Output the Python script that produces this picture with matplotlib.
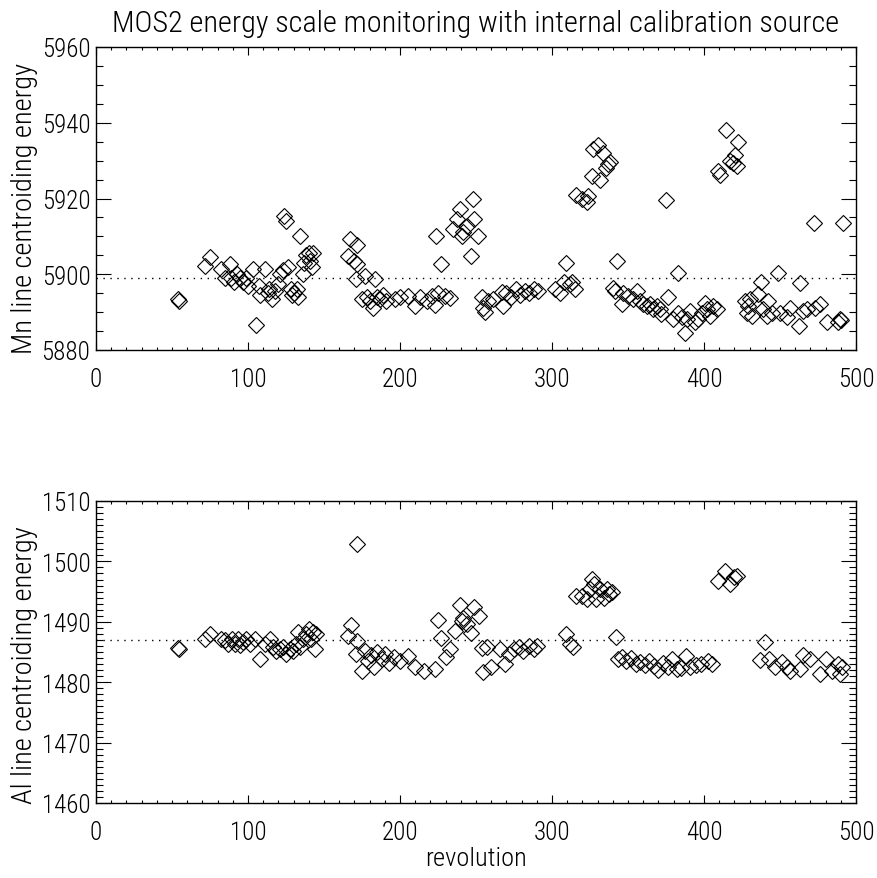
import matplotlib
matplotlib.use("Agg")
import matplotlib.pyplot as plt
from matplotlib.ticker import MultipleLocator

# Mn K-alpha line centroid (top panel): (revolution, energy)
mn_points = [
    (54, 5893.5), (54.5, 5893), (72, 5902.3), (75, 5904.6), (82, 5901.4),
    (85, 5899), (88, 5902.7), (89, 5899), (91, 5898), (93, 5900), (95, 5899),
    (97, 5898), (99, 5899), (100, 5897), (103, 5901.5), (105, 5886.5),
    (107, 5897), (108, 5894.5), (111, 5901.5), (113, 5895), (114, 5896),
    (116, 5893.5), (118, 5895.5), (120, 5897.5), (121, 5900), (123, 5901),
    (124, 5915.5), (125, 5914), (126, 5902), (128, 5896), (129, 5894.5),
    (130, 5895), (132, 5896), (133, 5894), (134, 5910), (136, 5900),
    (137, 5903), (138, 5905), (140, 5905.5), (141, 5903.5), (142, 5902),
    (143, 5905.5),
    (166, 5904.8), (167, 5909.3), (170, 5903.5), (171.5, 5907.7),
    (172, 5902.7), (171, 5898.7), (175, 5893.5), (177, 5899.5), (178, 5894),
    (180, 5893), (182, 5891), (183.5, 5898.7), (185, 5894), (187, 5893.5),
    (189, 5894.5), (191, 5893), (197, 5893.5), (200, 5894), (205, 5894.3),
    (210, 5891.6), (213, 5894), (218, 5893), (221, 5894.3), (223, 5892),
    (224, 5910), (225, 5895), (227, 5902.7), (229.6, 5894.3), (233, 5893.7),
    (235, 5912), (237.5, 5914.6), (239.5, 5917.2), (241, 5910.1),
    (241.5, 5911.2), (244, 5912.8), (246.7, 5904.8), (248, 5920),
    (249, 5914.6), (251, 5910), (254, 5894), (254.6, 5891), (256, 5890),
    (258, 5893), (261, 5893.5), (267, 5895.3), (268, 5891.6), (270, 5895),
    (273, 5894), (276, 5896), (279, 5894.5), (282, 5895.5), (285, 5895),
    (288, 5896), (291, 5895.5), (302, 5896), (305, 5895), (308, 5898),
    (309, 5903), (312, 5897.5), (313, 5898), (315, 5896), (316, 5921),
    (320, 5920), (323, 5919), (324, 5920.6), (326, 5926), (327, 5933),
    (330, 5934), (331.5, 5925), (333.5, 5932), (335.5, 5928), (337, 5929),
    (338, 5929.6),
    (340.3, 5896.5), (341.4, 5895.6), (342.5, 5903.5), (345.8, 5892.1),
    (347, 5895), (350.2, 5894.3), (353.5, 5893.4), (355.7, 5895.6),
    (357.9, 5893), (360, 5892.1), (362.3, 5891.7), (364.5, 5892.1),
    (366.7, 5890.8), (368.9, 5891.7), (371, 5890.8), (372, 5889.5),
    (374.8, 5919.5), (376.5, 5893.9), (379.8, 5888.2), (382.7, 5900.4),
    (383.1, 5889.9), (385.3, 5888.6), (387.5, 5884.6), (389, 5888.2),
    (390.8, 5890.3), (394, 5887.3), (396.3, 5888.2), (398.5, 5889.9),
    (400.7, 5892.5), (402.2, 5890.8), (404, 5889), (406.1, 5891.7),
    (408.3, 5890.8), (409.4, 5927.2), (410.5, 5926.3), (414.5, 5938.2),
    (417, 5929.8), (419, 5929.5), (420.4, 5931.6), (421.5, 5928.5),
    (422.6, 5934.8), (427, 5893), (428, 5889.9), (429.2, 5891.7),
    (430.3, 5893.4), (431.4, 5889), (435.7, 5894.7), (437.5, 5898),
    (439, 5890.8), (441.2, 5889), (442.3, 5893), (444.5, 5889.9),
    (448.5, 5900.4), (450, 5889.9), (454.4, 5888.6), (456.6, 5891.2),
    (462.5, 5886.4), (463, 5897.8), (465.3, 5890.3), (467.5, 5890.8),
    (472.6, 5913.6), (473, 5891.2), (476.3, 5892.1), (480.7, 5887.3),
    (488.4, 5887.3), (489.5, 5888.2), (490, 5887.8), (491.7, 5913.4),
]

# Al K-alpha line centroid (bottom panel): (revolution, energy)
al_points = [
    (54, 1485.7), (54.5, 1485.5), (72, 1487.2), (75, 1488), (82, 1487.2),
    (85, 1487), (87, 1486.4), (89.5, 1487.2), (91.5, 1486.4), (93.5, 1487.2),
    (95, 1486.2), (97, 1486.7), (99, 1487.2), (101, 1486.4), (104.6, 1487.2),
    (108, 1483.9), (111, 1486.4), (114.5, 1487.2), (116.5, 1485.9),
    (118.5, 1485.2), (121, 1485.5), (123, 1485.9), (125, 1484.7),
    (127.6, 1485.5), (129.6, 1485.2), (131.6, 1486.4), (133, 1488.3),
    (134, 1485.9), (136, 1487.2), (138, 1488), (140, 1488.8), (141.5, 1487.2),
    (143, 1488.3), (144, 1485.5), (145, 1488),
    (166, 1487.7), (167.5, 1489.5), (171, 1484.7), (171.5, 1486.9),
    (172, 1502.8), (175, 1481.9), (177, 1485.2), (179, 1483.5),
    (181, 1484.5), (183, 1482.5), (185, 1485), (188, 1483.8), (190, 1484.6),
    (193, 1483.2), (196, 1484.1), (200, 1483.5), (205, 1484.3),
    (210, 1482.5), (216, 1481.9), (223, 1482.2), (225, 1490.3),
    (227, 1487.3), (230, 1484.2), (233, 1485.5), (236, 1488.5),
    (239.5, 1492.7), (240.5, 1490.2), (241.7, 1490.7), (244, 1489.6),
    (246.5, 1488.1), (249, 1492.5), (252, 1491), (253.7, 1485.7),
    (254.8, 1481.7), (257, 1485.8), (260, 1482.5), (265.8, 1485.5),
    (269, 1483), (272, 1484.6), (275, 1485.5), (278, 1485.8), (281, 1485.2),
    (285, 1486), (288, 1485.5), (290, 1486),
    (309, 1488), (312, 1486.3), (313.5, 1485.9), (316, 1494.3),
    (320, 1494.3), (323, 1493.8), (325, 1495.4), (326, 1497.1),
    (327.6, 1496.3), (329, 1493.8), (331.6, 1495.4), (334, 1494),
    (336, 1495.4), (337.5, 1494.6), (339.5, 1495), (342, 1487.5),
    (343.5, 1483.9), (346, 1484.2), (349, 1483.5), (352, 1484),
    (355, 1483), (358, 1483.4), (361, 1482.8), (364, 1483.5), (367, 1482.6),
    (370, 1482), (373, 1483.2), (376, 1482.5), (379, 1483.8), (382, 1482.2),
    (385, 1482.4), (388, 1484.3), (391, 1482.5), (395, 1482.8), (398, 1483),
    (402.6, 1483.5), (405, 1483), (409, 1496.8), (414, 1498.4),
    (417, 1496.3), (420, 1497.4), (422, 1497.6), (437, 1483.6),
    (440, 1486.7), (443, 1483.9), (447, 1482.5), (451, 1483.4),
    (454.6, 1482.5), (456.6, 1481.8), (463, 1482.2), (465, 1484.5),
    (469.7, 1483.9), (476, 1481.4), (480, 1483.9), (484, 1481.9),
    (488, 1483), (489.5, 1481.4), (491, 1482.5),
]

mn_rev = [p[0] for p in mn_points]
mn_energy = [p[1] for p in mn_points]
al_rev = [p[0] for p in al_points]
al_energy = [p[1] for p in al_points]

mn_nominal = 5899.0
al_nominal = 1487.0

plt.rcParams['font.family'] = ['Roboto Condensed', 'Liberation Sans Narrow',
                               'Roboto', 'DejaVu Sans']
plt.rcParams['font.weight'] = 'light'
plt.rcParams['axes.titleweight'] = 'light'
plt.rcParams['axes.labelweight'] = 'light'
plt.rcParams['font.size'] = 18

fig = plt.figure(figsize=(8.77, 8.79), dpi=100)
ax1 = fig.add_axes([96 / 877, 1 - 351 / 879, 760 / 877, 303 / 879])
ax2 = fig.add_axes([96 / 877, 1 - 804 / 879, 760 / 877, 302 / 879])


def style_axis(ax, ymin, ymax, ymajor, yminor):
    ax.set_xlim(0, 500)
    ax.set_ylim(ymin, ymax)
    ax.xaxis.set_major_locator(MultipleLocator(100))
    ax.xaxis.set_minor_locator(MultipleLocator(10))
    ax.yaxis.set_major_locator(MultipleLocator(ymajor))
    ax.yaxis.set_minor_locator(MultipleLocator(yminor))
    ax.tick_params(axis='both', which='both', direction='in', top=True, right=True,
                   width=0.8, color='black')
    ax.tick_params(axis='y', which='major', length=10.5, pad=4)
    ax.tick_params(axis='y', which='minor', length=5)
    ax.tick_params(axis='x', which='major', length=5.5, pad=12)
    ax.tick_params(axis='x', which='minor', length=2.5)
    for sp in ax.spines.values():
        sp.set_linewidth(1.0)


ax1.plot(mn_rev, mn_energy, linestyle='none', marker='D', markersize=8.5,
         markerfacecolor='none', markeredgecolor='black', markeredgewidth=0.8)
ax1.axhline(mn_nominal, color='black', linestyle=(0, (1, 4)), linewidth=1)
style_axis(ax1, 5880, 5960, 20, 5)
ax1.set_ylabel('Mn line centroiding energy', fontsize=20.5)
ax1.yaxis.set_label_coords(-0.076, 0.47)
ax1.set_title('MOS2 energy scale monitoring with internal calibration source',
              fontsize=21.8, pad=11.5)

ax2.plot(al_rev, al_energy, linestyle='none', marker='D', markersize=8.5,
         markerfacecolor='none', markeredgecolor='black', markeredgewidth=0.8)
ax2.axhline(al_nominal, color='black', linestyle=(0, (1, 4)), linewidth=1)
style_axis(ax2, 1460, 1510, 10, 1)
ax2.set_ylabel('Al line centroiding energy', fontsize=20.5)
ax2.yaxis.set_label_coords(-0.076, 0.46)
ax2.set_xlabel('revolution', fontsize=19, labelpad=2)

fig.savefig('out.png', dpi=100)
